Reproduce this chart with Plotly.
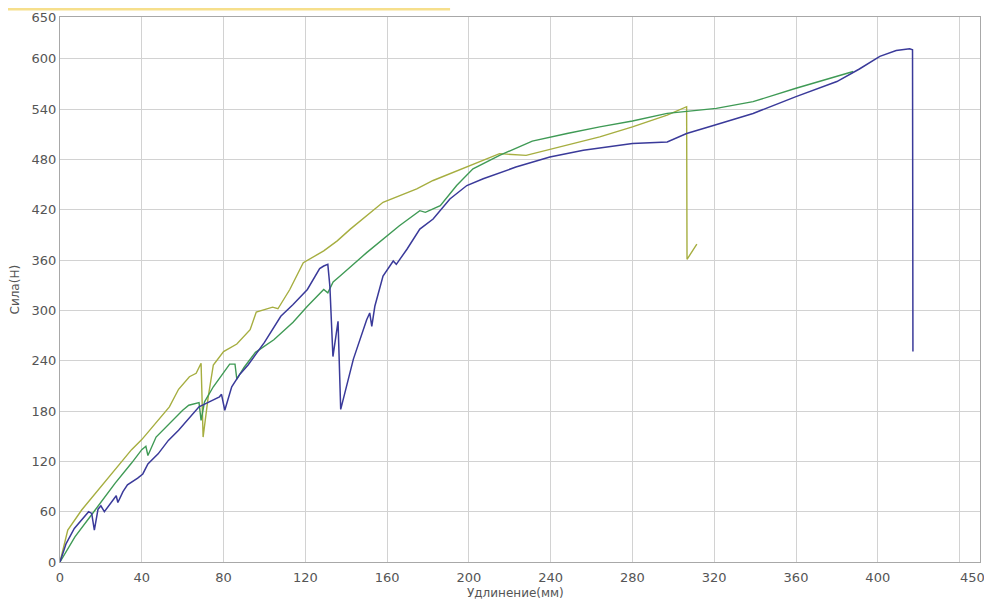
import plotly.graph_objects as go

# Series: blue (longest), green, olive
blue_x = [0, 3, 7, 11, 14, 15.5, 16.8, 18.6, 20, 21.7, 24, 27.5, 28.3, 30.8, 33, 35, 38, 40.5, 43, 48,
          53, 58, 63, 68, 73, 78, 79, 80.6, 84, 88, 92, 100, 108, 114, 121, 127, 129, 131, 132, 133.5,
          136, 137.3, 143.5, 150, 151.5, 152.5, 154, 158, 163, 164.5, 169.7, 176, 182.5, 190.7, 199,
          207, 223, 239.6, 256, 280, 297, 306.5, 320, 339, 360, 380, 391, 401, 409, 415.6, 417, 417.2]
blue_y = [0, 22, 40, 52, 60, 58, 38, 63, 67, 60, 68, 79, 71, 84, 92, 95, 100, 105, 117, 129,
          145, 157, 171, 185, 191, 197, 200, 181, 209, 224, 235, 262, 293, 307, 325, 350, 353, 355, 329, 245,
          287, 182, 242, 289, 297, 281, 305, 341, 359, 355, 373, 397, 409, 433, 449,
          457, 471, 483, 491, 499, 501, 511, 521, 535, 555, 573, 588, 603, 610, 612, 611, 251]

green_x = [0, 7.3, 17.2, 27, 35, 40, 42, 43, 47, 53.5, 60, 63, 68, 69, 70.7, 75, 80, 83, 85.6, 86.5,
           90, 95.6, 104.6, 114, 121, 129, 131, 133.6, 137, 150, 166, 176, 178.7, 186, 194, 202, 215,
           231, 248, 264, 280, 297, 321, 339, 360, 380, 388]
green_y = [0, 30, 62, 94, 118, 134, 138, 127, 149, 165, 181, 187, 190, 169, 191, 209, 226, 236, 236, 218,
           232, 250, 265, 286, 305, 325, 321, 334, 341, 369, 401, 419, 417, 425, 449, 469, 485,
           502, 511, 519, 526, 535, 541, 549, 565, 579, 585]

olive_x = [0, 3.8, 10.6, 18.7, 27, 35, 40, 47, 53.5, 58, 63.3, 66.6, 69, 70, 72.5, 75, 80, 86.5, 93, 96,
           104, 106.6, 112.4, 119, 129, 135.6, 142, 158, 166, 174.5, 182.5, 199, 215, 228, 248, 264,
           280, 297, 306.5, 306.7, 311.5]
olive_y = [0, 38, 62, 86, 110, 134, 146, 166, 185, 206, 221, 225, 237, 149, 197, 235, 251, 260, 277, 298,
           304, 302, 325, 357, 371, 383, 397, 429, 437, 445, 455, 471, 487, 485, 497, 507,
           519, 533, 543, 361, 379]

x_tickvals = [0, 40, 80, 120, 160, 200, 240, 280, 320, 360, 400, 440, 450]
x_ticktext = ["0", "40", "80", "120", "160", "200", "240", "280", "320", "360", "400", "", ""]
x_max_label = "450"
y_tickvals = [0, 60, 120, 180, 240, 300, 360, 420, 480, 540, 600, 650]
y_ticktext = ["0", "60", "120", "180", "240", "300", "360", "420", "480", "540", "600", "650"]

x_title = "Удлинение(мм)"
y_title = "Сила(Н)"

fig = go.Figure()
fig.add_trace(go.Scatter(x=olive_x, y=olive_y, mode="lines",
                         line=dict(color="#a6ae40", width=1.4), showlegend=False))
fig.add_trace(go.Scatter(x=green_x, y=green_y, mode="lines",
                         line=dict(color="#3f9a55", width=1.4), showlegend=False))
fig.add_trace(go.Scatter(x=blue_x, y=blue_y, mode="lines",
                         line=dict(color="#3a3a9a", width=1.5), showlegend=False))

axis_font = dict(family="DejaVu Sans", size=13, color="#555555")

fig.update_layout(
    width=992, height=600,
    margin=dict(l=52, r=20, t=9, b=46),
    paper_bgcolor="white", plot_bgcolor="white",
    font=axis_font,
    xaxis=dict(range=[0, 450], tickmode="array", tickvals=x_tickvals, ticktext=x_ticktext,
               showgrid=True, gridcolor="#d2d2d2", gridwidth=1, zeroline=False, automargin=False,
               showline=True, linecolor="#a8a8a8", linewidth=1, mirror=True,
               ticks="outside", ticklen=3, tickcolor="rgba(0,0,0,0)", tickfont=axis_font),
    yaxis=dict(range=[0, 650], tickmode="array", tickvals=y_tickvals, ticktext=y_ticktext,
               showgrid=True, gridcolor="#d2d2d2", gridwidth=1, zeroline=False, automargin=False,
               showline=True, linecolor="#a8a8a8", linewidth=1, mirror=True,
               ticks="", tickfont=axis_font),
    annotations=[
        dict(text=x_max_label, xref="paper", yref="paper", x=1.0076, y=-0.028,
             xanchor="right", yanchor="middle", showarrow=False, font=axis_font),
        dict(text=x_title, xref="paper", yref="paper", x=0.495, y=-0.056,
             xanchor="center", yanchor="middle", showarrow=False,
             font=dict(family="DejaVu Sans", size=12, color="#555555")),
        dict(text=y_title, xref="paper", yref="paper", x=-0.05, y=0.5,
             xanchor="center", yanchor="middle", showarrow=False, textangle=-90,
             font=dict(family="DejaVu Sans", size=12, color="#555555")),
    ],
    shapes=[
        dict(type="line", xref="paper", yref="paper", x0=-0.06, x1=0.424, y0=1.0147, y1=1.0147,
             line=dict(color="#f6df8c", width=3)),
    ],
)

fig.write_html("out.html")
